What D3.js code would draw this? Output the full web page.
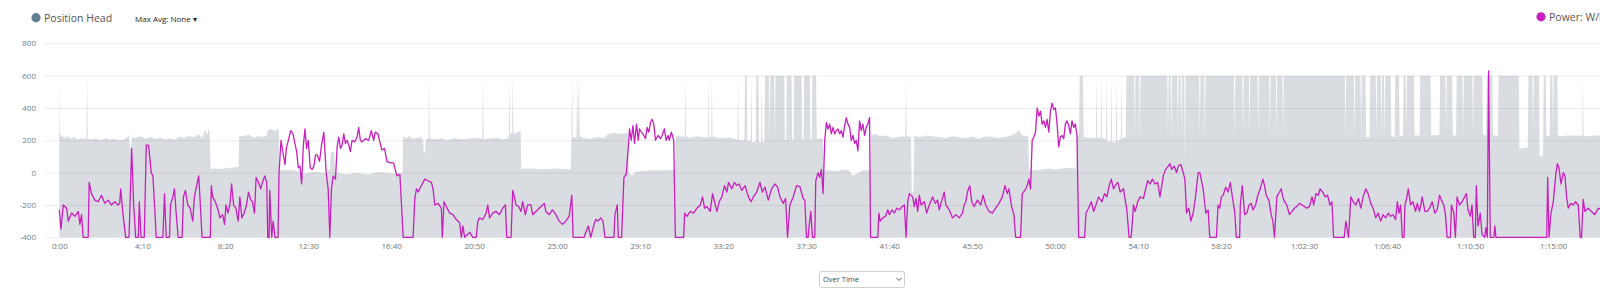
<!DOCTYPE html>
<html>
<head>
<meta charset="utf-8">
<script src="https://cdn.jsdelivr.net/npm/d3@7"></script>
<style>
  body { margin: 0; background: #fff; overflow: hidden; }
  svg { display: block; font-family: "Open Sans", "Noto Sans", sans-serif; }
</style>
</head>
<body>
<div id="chart"></div>
<script>
// [seconds, value]
const headData = [
  [0,600],[2,240],[6,230],[15,215],[25,225],[35,210],[45,220],[55,205],[65,215],[75,210],[82,215],[84,600],[86,210],[95,205],[110,212],[125,200],[140,215],[150,205],[165,210],[180,200],[195,205],[205,218],[210,235],[213,150],[216,150],[219,220],[230,215],[245,225],[260,210],[275,222],[290,210],[305,215],[320,205],[335,212],[350,202],[360,222],[375,214],[390,226],[405,220],[420,238],[430,212],[440,268],[445,232],[450,275],[453,250],[456,22],
  [470,25],[490,22],[510,30],[525,32],[540,36],[542,222],[555,226],[570,236],[585,216],[600,226],[615,220],[625,232],[628,262],[640,270],[650,256],[658,272],[661,270],[663,16],
  [680,15],[700,18],[720,8],[730,-12],[740,-6],[760,2],[780,5],[800,-4],[815,18],[818,125],[828,132],[831,2],[850,-5],[870,-10],[890,0],[910,-6],[930,-12],[950,0],[970,4],[990,-2],[1010,-6],[1034,-4],
  [1036,222],[1045,214],[1055,226],[1065,210],[1090,220],[1096,200],[1098,120],[1101,120],[1104,205],[1112,215],[1114,600],[1116,215],[1130,205],[1150,212],[1170,200],[1190,215],[1210,205],[1230,210],[1250,216],[1274,210],[1276,600],[1278,205],[1300,212],[1320,216],[1340,205],[1354,220],[1356,600],[1358,230],[1364,258],[1366,600],[1368,240],[1380,250],[1390,256],[1392,22],
  [1420,25],[1460,20],[1500,26],[1541,20],[1543,215],[1545,600],[1547,220],[1558,215],[1561,600],[1563,220],[1566,600],[1568,225],[1580,215],[1600,210],[1620,220],[1640,215],[1656,240],[1670,246],[1690,240],[1713,245],[1716,0],
  [1725,-20],[1735,5],[1760,10],[1790,15],[1820,15],[1855,20],
  [1857,230],[1870,225],[1884,222],[1886,600],[1888,222],[1900,215],[1920,225],[1935,220],[1954,218],[1956,600],[1958,220],[1964,220],[1966,600],[1968,225],[1990,212],[2020,218],[2043,205],[2045,600],[2047,200],[2064,200],[2066,600],[2071,600],[2073,195],[2083,195],[2085,600],[2087,190],[2098,190],[2100,600],[2106,600],[2108,188],[2114,188],[2116,600],[2118,188],[2124,190],[2126,600],[2138,600],[2140,200],[2142,600],[2154,600],[2156,200],[2158,600],[2184,600],[2186,200],[2190,205],[2192,600],[2206,600],[2208,205],[2212,205],[2214,600],[2236,600],[2238,205],[2242,205],[2244,600],[2261,600],[2263,205],[2267,205],[2269,600],[2280,600],[2282,210],[2300,215],[2302,12],
  [2320,15],[2340,10],[2360,20],[2380,15],[2390,-20],[2398,-10],[2420,15],[2444,18],
  [2446,232],[2460,240],[2470,225],[2490,230],[2510,215],[2530,222],[2549,225],[2551,600],[2553,225],[2566,220],[2568,-120],[2573,-120],[2576,230],[2590,220],[2610,230],[2630,225],[2650,220],[2670,215],[2690,225],[2710,220],[2730,215],[2750,222],[2770,210],[2790,225],[2810,220],[2830,215],[2850,220],[2870,232],[2885,250],[2890,270],[2900,232],[2915,226],[2919,222],[2921,20],
  [2940,15],[2960,20],[2980,25],[3000,20],[3020,25],[3040,30],[3064,25],
  [3066,230],[3072,230],[3074,600],[3084,600],[3086,220],[3123,215],[3125,600],[3127,215],[3138,215],[3140,600],[3142,212],[3153,205],[3155,600],[3157,195],[3168,190],[3170,600],[3172,190],[3183,190],[3185,600],[3187,195],[3198,210],[3200,600],[3202,215],[3213,220],[3215,600],
  [3238,600],[3240,220],[3242,600],[3253,600],[3255,215],[3257,600],[3338,600],[3340,225],[3342,600],[3348,600],[3350,220],[3352,600],[3368,600],[3370,218],[3372,600],[3378,600],[3380,222],[3382,600],[3389,600],[3391,70],[3393,600],[3434,600],[3436,225],[3438,600],[3449,600],[3451,220],[3453,600],[3539,600],[3541,228],[3543,600],[3564,600],[3566,225],[3568,600],[3584,600],[3586,222],[3588,600],[3610,600],[3612,230],[3614,600],[3645,600],[3647,225],[3649,600],[3665,600],[3667,228],[3669,600],[3685,600],[3687,230],[3689,600],
  [3873,600],[3875,218],[3877,600],[3900,600],[3902,222],[3904,600],[3920,600],[3922,220],[3924,600],[3935,600],[3937,222],[3947,218],[3949,600],[3966,600],[3968,215],[3970,600],[3981,600],[3983,220],[3985,600],[3991,600],[3993,218],[3995,600],[4011,600],[4013,225],[4023,222],[4025,600],[4036,600],[4038,228],[4048,225],[4050,600],[4056,600],[4058,230],[4060,600],[4081,600],[4083,232],[4098,228],[4100,600],[4131,600],[4133,235],[4145,230],[4158,236],[4160,600],[4176,600],[4178,230],[4180,600],[4196,600],[4198,232],[4208,228],[4210,600],[4227,600],[4229,230],[4231,600],[4257,600],[4259,232],[4261,600],[4287,600],[4289,235],[4299,230],[4301,600],[4317,600],[4319,232],[4334,228],[4336,600],[4397,600],[4399,150],[4424,155],[4426,600],[4438,600],[4440,230],[4442,600],[4458,600],[4460,100],[4470,105],[4472,600],[4478,600],[4480,225],[4490,228],[4492,600],[4498,600],[4500,230],[4502,600],[4513,600],[4515,230],
  [4530,225],[4545,232],[4560,228],[4575,230],[4588,226],[4590,600],[4592,228],[4610,225],[4630,232],[4650,228],[4680,230]
];

const powerData = [
  [0,-230],[5,-350],[12,-200],[22,-220],[27,-300],[37,-250],[47,-270],[57,-240],[62,-320],[67,-260],[72,-400],[87,-400],[90,-60],[97,-130],[107,-170],[117,-180],[127,-140],[137,-190],[147,-170],[157,-200],[167,-180],[177,-200],[182,-190],[185,-100],[192,-260],[200,-400],[210,-400],[213,-200],[218,150],[224,-200],[230,-400],[238,-400],[241,-180],[246,-400],[256,-400],[262,170],[269,170],[277,0],[282,-20],[287,-200],[292,-400],[312,-400],[317,-130],[322,-400],[332,-400],[335,-200],[342,-150],[347,-100],[352,-250],[358,-400],[370,-400],[374,-150],[380,-110],[387,-200],[394,-220],[402,-300],[407,-150],[415,-70],[420,-20],[425,-200],[430,-400],[455,-400],[458,-80],[462,-150],[470,-180],[477,-220],[484,-280],[492,-260],[498,-320],[502,-200],[508,-250],[514,-200],[519,-70],[525,-200],[532,-220],[539,-300],[544,-150],[550,-280],[557,-250],[564,-200],[570,-120],[577,-170],[582,-180],[588,-250],[593,-30],[600,-60],[607,-100],[612,-60],[619,-20],[625,-60],[628,-400],[632,-400],[634,-110],[640,-400],[644,-300],[650,-400],[659,-400],
  [662,0],[668,200],[674,120],[680,50],[684,150],[690,200],[697,260],[704,240],[710,180],[715,130],[720,30],[725,40],[730,-70],[735,160],[740,270],[745,150],[750,200],[756,30],[762,20],[767,40],[772,110],[777,110],[784,70],[790,170],[797,250],[804,0],[810,-100],[815,-400],[820,-100],[825,-20],[832,-40],[837,160],[842,220],[847,150],[852,170],[857,240],[862,180],[867,200],[872,170],[877,130],[882,200],[890,190],[897,220],[902,280],[907,200],[912,190],[922,210],[932,200],[940,260],[947,200],[952,250],[960,240],[967,180],[972,140],[980,150],[987,70],[997,60],[1007,60],[1017,-20],
  [1026,-10],[1031,-200],[1036,-400],[1066,-400],[1071,-160],[1076,-100],[1081,-120],[1091,-80],[1101,-40],[1111,-50],[1121,-60],[1126,-100],[1131,-200],[1141,-190],[1151,-220],[1154,-400],[1159,-180],[1166,-210],[1176,-250],[1186,-260],[1196,-290],[1206,-310],[1211,-400],[1216,-330],[1221,-400],[1236,-370],[1246,-400],[1256,-400],[1261,-300],[1266,-280],[1276,-290],[1286,-250],[1291,-200],[1296,-280],[1306,-250],[1316,-240],[1326,-260],[1336,-220],[1344,-200],[1348,-400],[1361,-400],[1366,-110],[1371,-150],[1376,-200],[1384,-210],[1391,-240],[1396,-180],[1404,-260],[1411,-200],[1421,-200],[1426,-260],[1436,-240],[1446,-220],[1456,-200],[1461,-190],[1466,-240],[1476,-260],[1486,-230],[1496,-260],[1506,-300],[1516,-320],[1526,-300],[1536,-270],[1544,-140],[1548,-400],[1581,-400],[1586,-370],[1594,-330],[1601,-400],[1611,-320],[1616,-290],[1623,-300],[1631,-280],[1638,-300],[1644,-400],[1671,-400],[1674,-260],[1681,-200],[1684,-400],[1694,-400],
  [1701,-30],[1708,-10],[1714,150],[1718,270],[1723,200],[1728,290],[1733,180],[1739,300],[1744,200],[1748,270],[1754,250],[1761,230],[1766,210],[1771,280],[1776,250],[1781,310],[1786,330],[1791,300],[1796,200],[1804,230],[1811,210],[1816,230],[1823,270],[1828,200],[1834,230],[1838,200],[1844,250],[1851,200],[1856,-400],[1881,-400],
  [1884,-250],[1891,-270],[1901,-240],[1911,-250],[1921,-220],[1931,-200],[1938,-150],[1944,-220],[1951,-210],[1961,-240],[1968,-130],[1974,-180],[1981,-240],[1988,-180],[1996,-150],[2004,-80],[2011,-120],[2016,-60],[2026,-100],[2034,-60],[2041,-80],[2048,-70],[2056,-110],[2066,-80],[2076,-150],[2084,-180],[2091,-150],[2101,-120],[2111,-60],[2118,-120],[2126,-90],[2136,-170],[2146,-100],[2156,-70],[2164,-90],[2171,-150],[2181,-190],[2188,-160],[2194,-400],[2201,-200],[2211,-150],[2221,-80],
  [2231,-86],[2241,-160],[2246,-170],[2251,-400],[2256,-400],[2259,-330],[2264,-240],[2269,-400],[2276,-400],[2279,-50],[2286,0],[2291,-30],[2296,20],[2301,-130],[2306,200],[2311,310],[2316,270],[2321,300],[2326,240],[2331,280],[2336,240],[2341,260],[2346,270],[2351,240],[2356,260],[2361,220],[2366,290],[2371,340],[2376,300],[2381,280],[2386,200],[2391,230],[2396,180],[2401,200],[2406,135],[2411,320],[2416,260],[2421,300],[2426,230],[2431,280],[2436,300],[2441,340],[2444,-400],[2466,-400],
  [2469,-250],[2473,-300],[2481,-280],[2489,-270],[2496,-230],[2501,-260],[2509,-230],[2516,-250],[2523,-220],[2531,-230],[2539,-210],[2546,-200],[2551,-400],[2556,-180],[2561,-130],[2571,-150],[2576,-210],[2581,-160],[2586,-240],[2591,-140],[2596,-200],[2606,-180],[2613,-250],[2621,-200],[2631,-150],[2639,-190],[2646,-170],[2651,-230],[2659,-170],[2666,-120],[2671,-200],[2681,-230],[2691,-280],[2701,-260],[2711,-280],[2721,-250],[2726,-200],[2731,-180],[2736,-120],[2743,-80],[2749,-180],[2756,-210],[2766,-170],[2776,-200],[2783,-140],[2791,-200],[2801,-240],[2811,-250],[2821,-220],[2831,-190],[2841,-150],[2849,-80],[2856,-130],[2861,-100],[2869,-210],[2876,-260],[2881,-400],[2896,-400],
  [2901,-130],[2909,-110],[2916,-80],[2921,-40],[2926,-100],[2931,200],[2936,220],[2941,250],[2946,400],[2951,350],[2956,380],[2961,300],[2966,320],[2971,280],[2976,330],[2981,250],[2986,380],[2991,430],[2996,390],[3001,400],[3006,300],[3011,160],[3016,220],[3021,230],[3026,210],[3031,300],[3036,320],[3041,290],[3046,240],[3051,320],[3056,280],[3061,300],[3066,230],[3071,-400],[3089,-400],
  [3093,-250],[3101,-220],[3109,-180],[3116,-240],[3123,-200],[3131,-150],[3141,-180],[3149,-130],[3156,-150],[3163,-80],[3169,-40],[3176,-100],[3181,-80],[3189,-60],[3196,-120],[3206,-100],[3216,-230],[3223,-400],[3229,-400],[3233,-300],[3236,-200],[3241,-240],[3249,-180],[3256,-150],[3266,-160],[3273,-100],[3279,-50],[3286,-70],[3293,-40],[3301,-70],[3309,-60],[3316,-150],[3326,-20],[3333,20],[3341,40],[3346,55],[3351,20],[3359,40],[3366,0],[3371,40],[3379,50],[3386,0],[3391,-40],[3396,-250],[3403,-220],[3409,-300],[3416,-250],[3423,-150],[3431,0],
  [3436,0],[3446,-100],[3454,-250],[3461,-230],[3466,-400],[3486,-400],[3491,-200],[3496,-220],[3501,-150],[3506,-140],[3514,-90],[3521,-120],[3528,-60],[3534,-150],[3541,-240],[3546,-400],[3556,-400],[3558,-200],[3564,-80],[3571,-260],[3578,-250],[3584,-200],[3591,-190],[3596,-230],[3604,-200],[3611,-140],[3618,-100],[3626,-40],[3631,-80],[3636,-140],[3644,-170],[3651,-260],[3656,-300],[3661,-400],[3668,-150],[3676,-120],[3681,-100],[3686,-150],[3691,-180],[3698,-200],[3706,-260],[3714,-240],[3721,-220],[3728,-210],[3736,-190],[3744,-200],[3751,-210],[3758,-220],[3766,-210],[3774,-150],[3779,-200],[3786,-130],[3793,-140],[3798,-100],[3806,-120],[3814,-150],[3821,-140],[3828,-200],[3834,-180],[3839,-400],[3871,-400],[3876,-300],[3884,-400],
  [3891,-150],[3898,-180],[3906,-200],[3914,-160],[3921,-220],[3928,-150],[3936,-100],[3943,-130],[3951,-190],[3958,-220],[3966,-280],[3973,-250],[3981,-300],[3988,-260],[3996,-280],[4004,-250],[4011,-270],[4018,-260],[4026,-290],[4031,-180],[4036,-250],[4041,-200],[4046,-400],[4051,-400],[4054,-200],[4058,-170],[4064,-100],[4071,-200],[4078,-180],[4086,-240],[4091,-190],[4098,-240],[4106,-150],[4114,-240],[4121,-240],[4128,-220],[4136,-180],[4144,-250],[4151,-230],[4158,-140],[4164,-170],[4171,-200],[4176,-260],[4181,-400],[4191,-400],[4194,-200],[4201,-250],[4206,-400],[4211,-150],[4218,-200],[4226,-180],[4234,-150],[4239,-130],[4244,-230],[4251,-270],[4256,-200],[4261,-400],[4266,-400],[4269,-80],[4274,-330],[4281,-250],[4286,-380],[4294,-400],[4298,-340],[4302,-400],[4306,630],[4311,-400],[4322,-400],[4325,-330],[4328,-400],[4481,-400],
  [4484,-30],[4488,-400],[4494,-250],[4501,-180],[4508,-20],[4513,55],[4518,30],[4524,-70],[4531,0],[4536,-20],[4541,-150],[4546,-220],[4554,-190],[4561,-200],[4568,-180],[4576,-200],[4582,-400],[4586,-400],[4591,-165],[4596,-240],[4606,-220],[4616,-240],[4626,-260],[4636,-220],[4660,-240]
];

const xTicks = [0,250,500,750,1000,1250,1500,1750,2000,2250,2500,2750,3000,3250,3500,3750,4000,4250,4500];
const yTicks = [-400,-200,0,200,400,600,800];
const legendLeft = "Position Head";
const legendRight = "Power: W/kg";
const avgLabel = "Max Avg: None \u25BE";
const modeLabel = "Over Time";

const width = 1600, height = 291;
const headColor = "#d9dde1", powerColor = "#c71fbd";

const svg = d3.select("#chart").append("svg")
  .attr("width", width).attr("height", height);

const x = d3.scaleLinear().domain([0, 4500]).range([59.3, 1553]);
const y = d3.scaleLinear().domain([-400, 800]).range([237.3, 43.3]);

const fmt = (s) => {
  const h = Math.floor(s / 3600), m = Math.floor((s % 3600) / 60), sec = s % 60;
  const ss = String(sec).padStart(2, "0");
  return h > 0 ? `${h}:${String(m).padStart(2, "0")}:${ss}` : `${m}:${ss}`;
};

// gray area
const area = d3.area()
  .x((d) => x(d[0]))
  .y0(y(-400))
  .y1((d) => y(d[1]));

svg.append("path").datum(headData)
  .attr("fill", headColor)
  .attr("d", area);

// grid lines, drawn over the area
const gridG = svg.append("g").attr("transform", "translate(44,0)")
  .call(d3.axisLeft(y).tickValues(yTicks).tickSize(-(width - 44)).tickFormat(""));
gridG.select(".domain").remove();
gridG.selectAll("line").attr("stroke", "rgba(0,0,0,0.075)");

// power line
const line = d3.line()
  .x((d) => x(d[0]))
  .y((d) => y(d[1]));

svg.append("path").datum(powerData)
  .attr("fill", "none")
  .attr("stroke", powerColor)
  .attr("stroke-width", 1.3)
  .attr("stroke-linejoin", "round")
  .attr("d", line);

// y axis labels
const yAxisG = svg.append("g").attr("transform", "translate(36,0)")
  .call(d3.axisLeft(y).tickValues(yTicks).tickSize(0).tickPadding(0).tickFormat((d) => String(d)));
yAxisG.select(".domain").remove();
yAxisG.selectAll("text")
  .attr("fill", "#6d7d8e")
  .style("font-size", "8px")
  .style("font-family", "'Open Sans', sans-serif");

// x axis labels
const xAxisG = svg.append("g").attr("transform", `translate(0,${y(-400)})`)
  .call(d3.axisBottom(x).tickValues(xTicks).tickSize(0).tickPadding(6).tickFormat(fmt));
xAxisG.select(".domain").remove();
xAxisG.selectAll("text")
  .attr("fill", "#737373")
  .style("font-size", "8px")
  .style("font-family", "'Open Sans', sans-serif");

// legends
svg.append("circle").attr("cx", 36).attr("cy", 17.7).attr("r", 4.6).attr("fill", "#627e93");
svg.append("text").attr("x", 44).attr("y", 21.8)
  .attr("fill", "#555").style("font-size", "10.5px").text(legendLeft);
svg.append("text").attr("x", 135).attr("y", 21.8)
  .attr("fill", "#222").style("font-size", "8px").text(avgLabel);

svg.append("circle").attr("cx", 1541).attr("cy", 16.8).attr("r", 4.6).attr("fill", powerColor);
svg.append("text").attr("x", 1549).attr("y", 20.8)
  .attr("fill", "#555").style("font-size", "10.5px").text(legendRight);

// mode select box
const sel = svg.append("g").attr("transform", "translate(819,271)");
sel.append("rect").attr("x", 0.5).attr("y", 0.5).attr("width", 85).attr("height", 16)
  .attr("rx", 2).attr("fill", "#fff").attr("stroke", "#cfcfcf");
sel.append("text").attr("x", 4).attr("y", 11)
  .attr("fill", "#444").style("font-size", "7.5px").text(modeLabel);
sel.append("path").attr("d", "M77.5,7 L80,9.5 L82.5,7")
  .attr("fill", "none").attr("stroke", "#555").attr("stroke-width", 1);
</script>
</body>
</html>
